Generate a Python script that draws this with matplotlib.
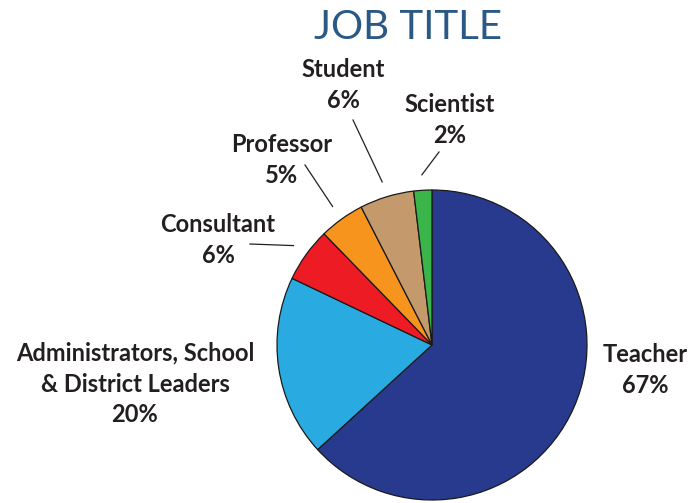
import numpy as np
import matplotlib.pyplot as plt

# job title breakdown, clockwise from 12 o'clock
labels = ['Teacher', 'Administrators, School\n& District Leaders', 'Consultant',
          'Professor', 'Student', 'Scientist']
values = [67, 20, 6, 5, 6, 2]
colors = ['#283A8E', '#29ABE2', '#ED1C24', '#F7941D', '#C49A6C', '#39B54A']

# label anchors (pixel space, y up) and where each leader line starts (None = no line)
label_pos = [(645, 133), (135, 119), (218, 263), (282, 343), (343, 418), (450, 383)]
line_start = [None, None, (250, 259), (305, 338), (353, 383), (439, 351)]

W, H = 700, 503
fig = plt.figure(figsize=(7, 5.03), dpi=100)
ax = fig.add_axes([0, 0, 1, 1])

cx, cy, r = 432, 158, 155
wedges, _ = ax.pie(values, colors=colors, startangle=90, counterclock=False,
                   center=(cx, cy), radius=r, frame=True,
                   wedgeprops=dict(edgecolor='#1a1a1a', linewidth=0.9))
ax.set_xlim(0, W)
ax.set_ylim(0, H)
ax.set_aspect('equal')
ax.axis('off')

txt = dict(fontfamily='Lato', fontweight='bold', fontsize=17, color='#231F20',
           ha='center', va='center', linespacing=1.4)
for w, lab, v, pos, ls in zip(wedges, labels, values, label_pos, line_start):
    ax.text(pos[0], pos[1], f'{lab}\n{round(v)}%', **txt)
    if ls is not None:
        mid = np.deg2rad((w.theta1 + w.theta2) / 2)
        ex, ey = cx + 1.1 * r * np.cos(mid), cy + 1.1 * r * np.sin(mid)
        ax.plot([ls[0], ex], [ls[1], ey], color='#231F20', lw=0.9)

ax.text(408, 476, 'JOB TITLE', fontfamily='Lato', fontweight='normal', fontsize=29,
        color='#2A5985', ha='center', va='center')

fig.savefig('out.png', dpi=100)
